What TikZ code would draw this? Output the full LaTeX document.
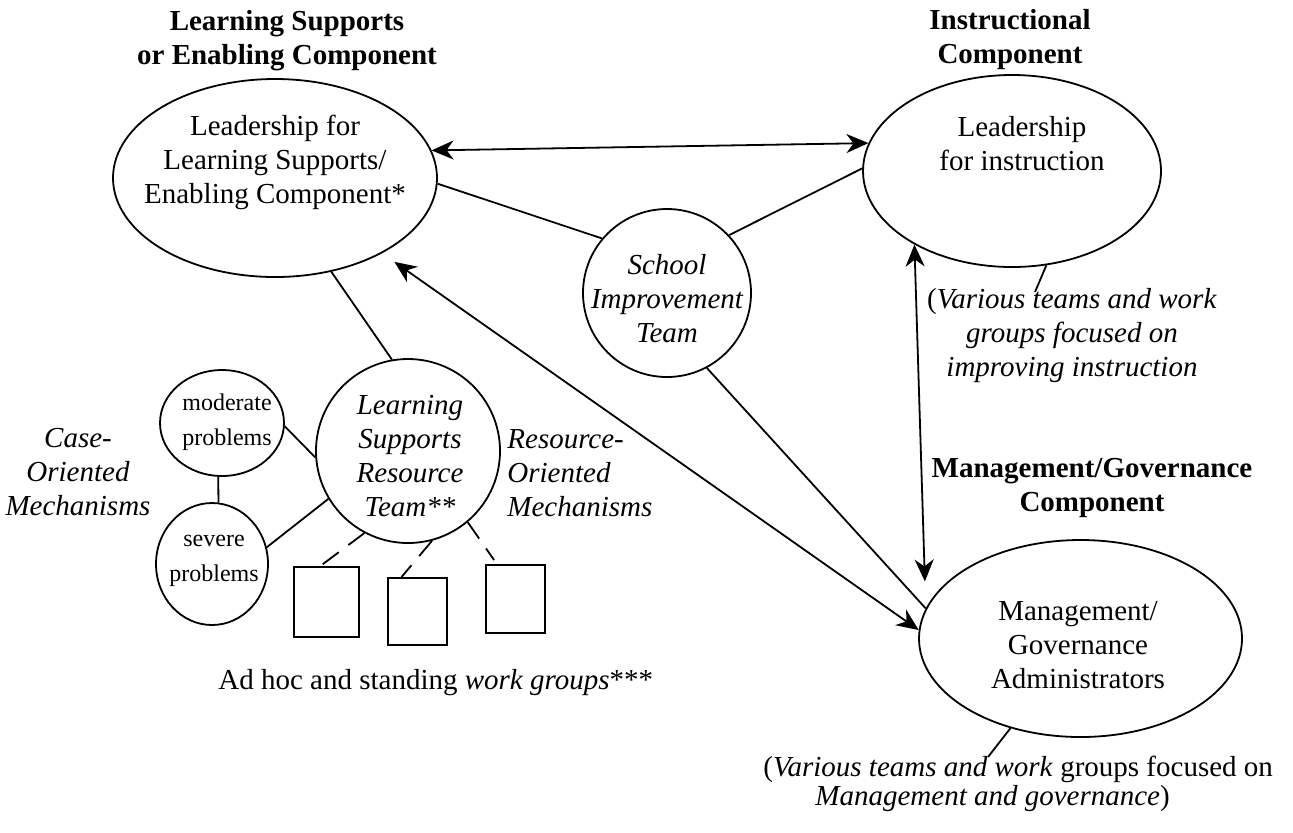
\documentclass[tikz,border=0pt]{standalone}
\usepackage{fontspec}
\setmainfont{Liberation Serif}
\usetikzlibrary{arrows.meta,shapes.geometric}

\begin{document}
\begin{tikzpicture}[x=0.5pt, y=-0.5pt,
	every node/.style={font=\fontsize{14.5}{17}\selectfont, align=center, inner sep=0pt},
	comp/.style={draw, ellipse, line width=0.9pt},
	title/.style={font=\fontsize{14.5}{17}\selectfont\bfseries},
	small/.style={font=\fontsize{12}{17.5}\selectfont},
	slant/.style={font=\fontsize{14.5}{17}\selectfont\itshape},
	wg/.style={draw, rectangle, line width=0.9pt},
	link/.style={line width=0.9pt},
	twoway/.style={link, {Stealth[length=11pt,width=9.5pt,inset=3.5pt]}-{Stealth[length=11pt,width=9.5pt,inset=3.5pt]}},
	dashlink/.style={link, dash pattern=on 10pt off 6pt}]
	\path[use as bounding box, fill=white] (0,0) rectangle (1293,832);

	\node[title] (lsTitle) at (287,41) {Learning Supports\\or Enabling Component};
	\node[title] (instrTitle) at (1010,40) {Instructional\\Component};
	\node[title] (mgmtTitle) at (1092,488) {Management/Governance\\Component};

	\node[comp, minimum width=162pt, minimum height=99pt] (lsLead) at (275,178) {};
	\node (lsLeadText) at (275,162) {Leadership for\\Learning Supports/\\Enabling Component*};
	\node[comp, minimum width=149pt, minimum height=96pt] (instrLead) at (1012,171) {};
	\node (instrLeadText) at (1022,144) {Leadership\\for instruction};
	\node[comp, minimum width=161.5pt, minimum height=98.5pt] (mgmt) at (1080.5,638.5) {};
	\node (mgmtText) at (1078,645) {Management/\\Governance\\Administrators};

	\node[comp, circle, minimum size=84pt] (sit) at (667,293) {};
	\node[slant] (sitText) at (667,299) {School\\Improvement\\Team};
	\node[comp, circle, minimum size=92pt] (lsrt) at (408,451) {};
	\node[slant] (lsrtText) at (410,456) {Learning\\Supports\\Resource\\Team**};
	\node[comp, minimum width=62pt, minimum height=53pt] (moderate) at (222,423) {};
	\node[small] (moderateText) at (227,422) {moderate\\problems};
	\node[comp, minimum width=56pt, minimum height=61pt] (severe) at (212,564) {};
	\node[small] (severeText) at (214,561) {severe\\problems};

	\node[wg, minimum width=32.5pt, minimum height=35pt] (box1) at (326.5,602) {};
	\node[wg, minimum width=29.5pt, minimum height=33.5pt] (box2) at (417.5,611.5) {};
	\node[wg, minimum width=29.5pt, minimum height=34pt] (box3) at (515.5,599) {};

	\node[slant] (caseText) at (78,472) {Case-\\Oriented\\Mechanisms};
	\node[slant, anchor=west, align=left] (resText) at (507,473) {Resource-\\Oriented\\Mechanisms};
	\node[anchor=west] (adHoc) at (218,683) {Ad hoc and standing \textit{work groups}***};
	\node (instrCap) at (1072,336) {(\textit{Various teams and work}\\\textit{groups focused on}\\\textit{improving instruction}};
	\node[anchor=west] (mgmtCapA) at (763,769) {(\textit{Various teams and work} groups focused on};
	\node[anchor=west] (mgmtCapB) at (815,799) {\textit{Management and governance})};

	\coordinate (instrTail) at (1035,292);
	\coordinate (mgmtTail) at (988,757);

	\draw[twoway] (lsLead.10) -- (instrLead.169);
	\draw[link] (lsLead.-2) -- (sit.140);
	\draw[link] (sit.43) -- (instrLead.179);
	\draw[link] (lsLead.-59) -- (lsrt.100);
	\draw[twoway, shorten >=7.5pt] (mgmt.177) -- (lsLead);
	\draw[twoway, shorten >=13.5pt] (instrLead.217) -- (mgmt.169.5);
	\draw[link] (sit.-62) -- (mgmt.169.5);
	\draw[link] (moderate.-3) -- (lsrt.184);
	\draw[link] (severe.17) -- (lsrt.211);
	\draw[link] (moderate.-94) -- (severe.84);
	\draw[dashlink] (lsrt.242) -- (box1.100);
	\draw[dashlink] (lsrt.285) -- (box2.115);
	\draw[dashlink, shorten >=2.5pt] (lsrt.310) -- (box3.118);
	\draw[link] (instrLead.-70) -- (instrTail);
	\draw[link] (mgmt.232.7) -- (mgmtTail);
\end{tikzpicture}
\end{document}
